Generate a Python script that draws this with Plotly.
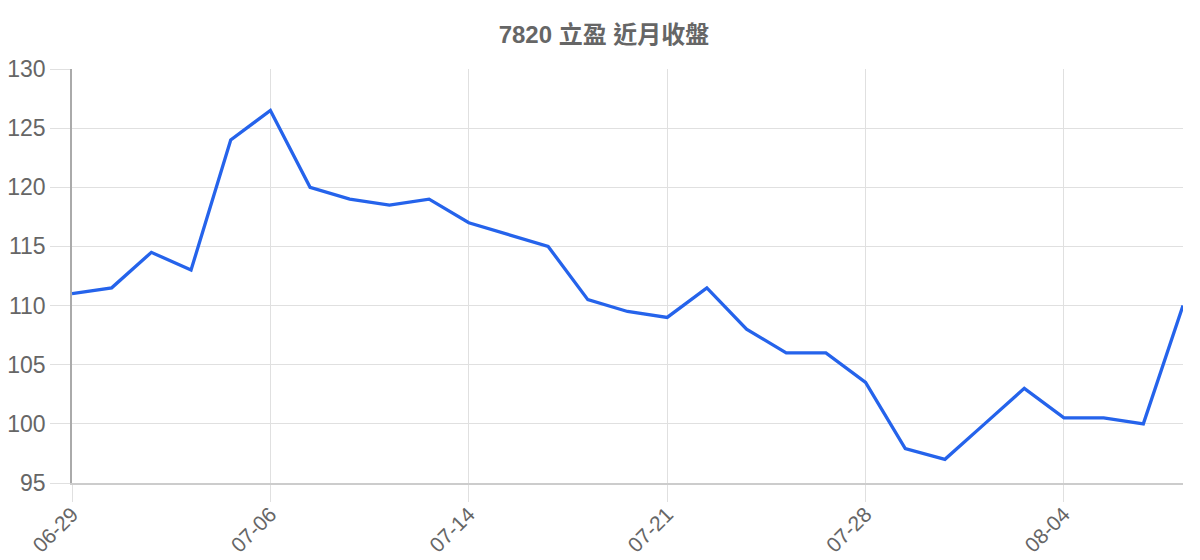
import plotly.graph_objects as go

# --- Data ---
dates = [
    "06-29", "06-30", "07-03", "07-04", "07-05", "07-06",
    "07-07", "07-11", "07-12", "07-13", "07-14",
    "07-17", "07-18", "07-19", "07-20", "07-21",
    "07-24", "07-25", "07-26", "07-27", "07-28",
    "07-31", "08-01", "08-02", "08-03", "08-04",
    "08-07", "08-08", "08-09",
]
close = [
    111, 111.5, 114.5, 113, 124, 126.5,
    120, 119, 118.5, 119, 117,
    116, 115, 110.5, 109.5, 109,
    111.5, 108, 106, 106, 103.5,
    97.9, 97, 100, 103, 100.5,
    100.5, 100, 110,
]
title = "7820 立盈 近月收盤"
y_ticks = [95, 100, 105, 110, 115, 120, 125, 130]

FONT = "Liberation Sans, Arial, Noto Sans CJK TC, sans-serif"
GREY = "#666666"

# page body has an 8px margin, so the figure is a bit smaller than the window
W, H = 1192, 552

fig = go.Figure()

fig.add_trace(go.Scatter(
    x=dates, y=close, mode="lines",
    line=dict(color="#2563eb", width=3.3),
    hoverinfo="x+y", showlegend=False,
))

fig.update_layout(
    width=W, height=H,
    paper_bgcolor="white", plot_bgcolor="white",
    margin=dict(l=64, r=17, t=61, b=77),
    font=dict(family=FONT, color=GREY),
    title=dict(
        text=f"<b>{title}</b>", x=0.5, xanchor="center",
        y=1 - 27 / H, yanchor="middle",
        font=dict(size=24, color=GREY, family=FONT),
    ),
    xaxis=dict(
        type="category", automargin=False,
        tickmode="array", tickvals=dates[::5],
        tickangle=-45,
        tickfont=dict(size=21, color=GREY),
        showgrid=True, gridcolor="#e0e0e0", gridwidth=1,
        ticks="outside", ticklen=17, tickcolor="#e0e0e0",
        ticklabelstandoff=-8,
        showline=True, linecolor="#cccccc", linewidth=1.5,
        range=[0, len(dates) - 1],
        zeroline=False,
    ),
    yaxis=dict(
        range=[95, 130], automargin=False,
        tickvals=y_ticks,
        tickfont=dict(size=23, color=GREY),
        showgrid=True, gridcolor="#e0e0e0", gridwidth=1,
        ticks="outside", ticklen=20, tickcolor="#e0e0e0",
        showline=True, linecolor="#aaaaaa", linewidth=1.5,
        zeroline=False,
    ),
)

fig.write_html("out.html")
